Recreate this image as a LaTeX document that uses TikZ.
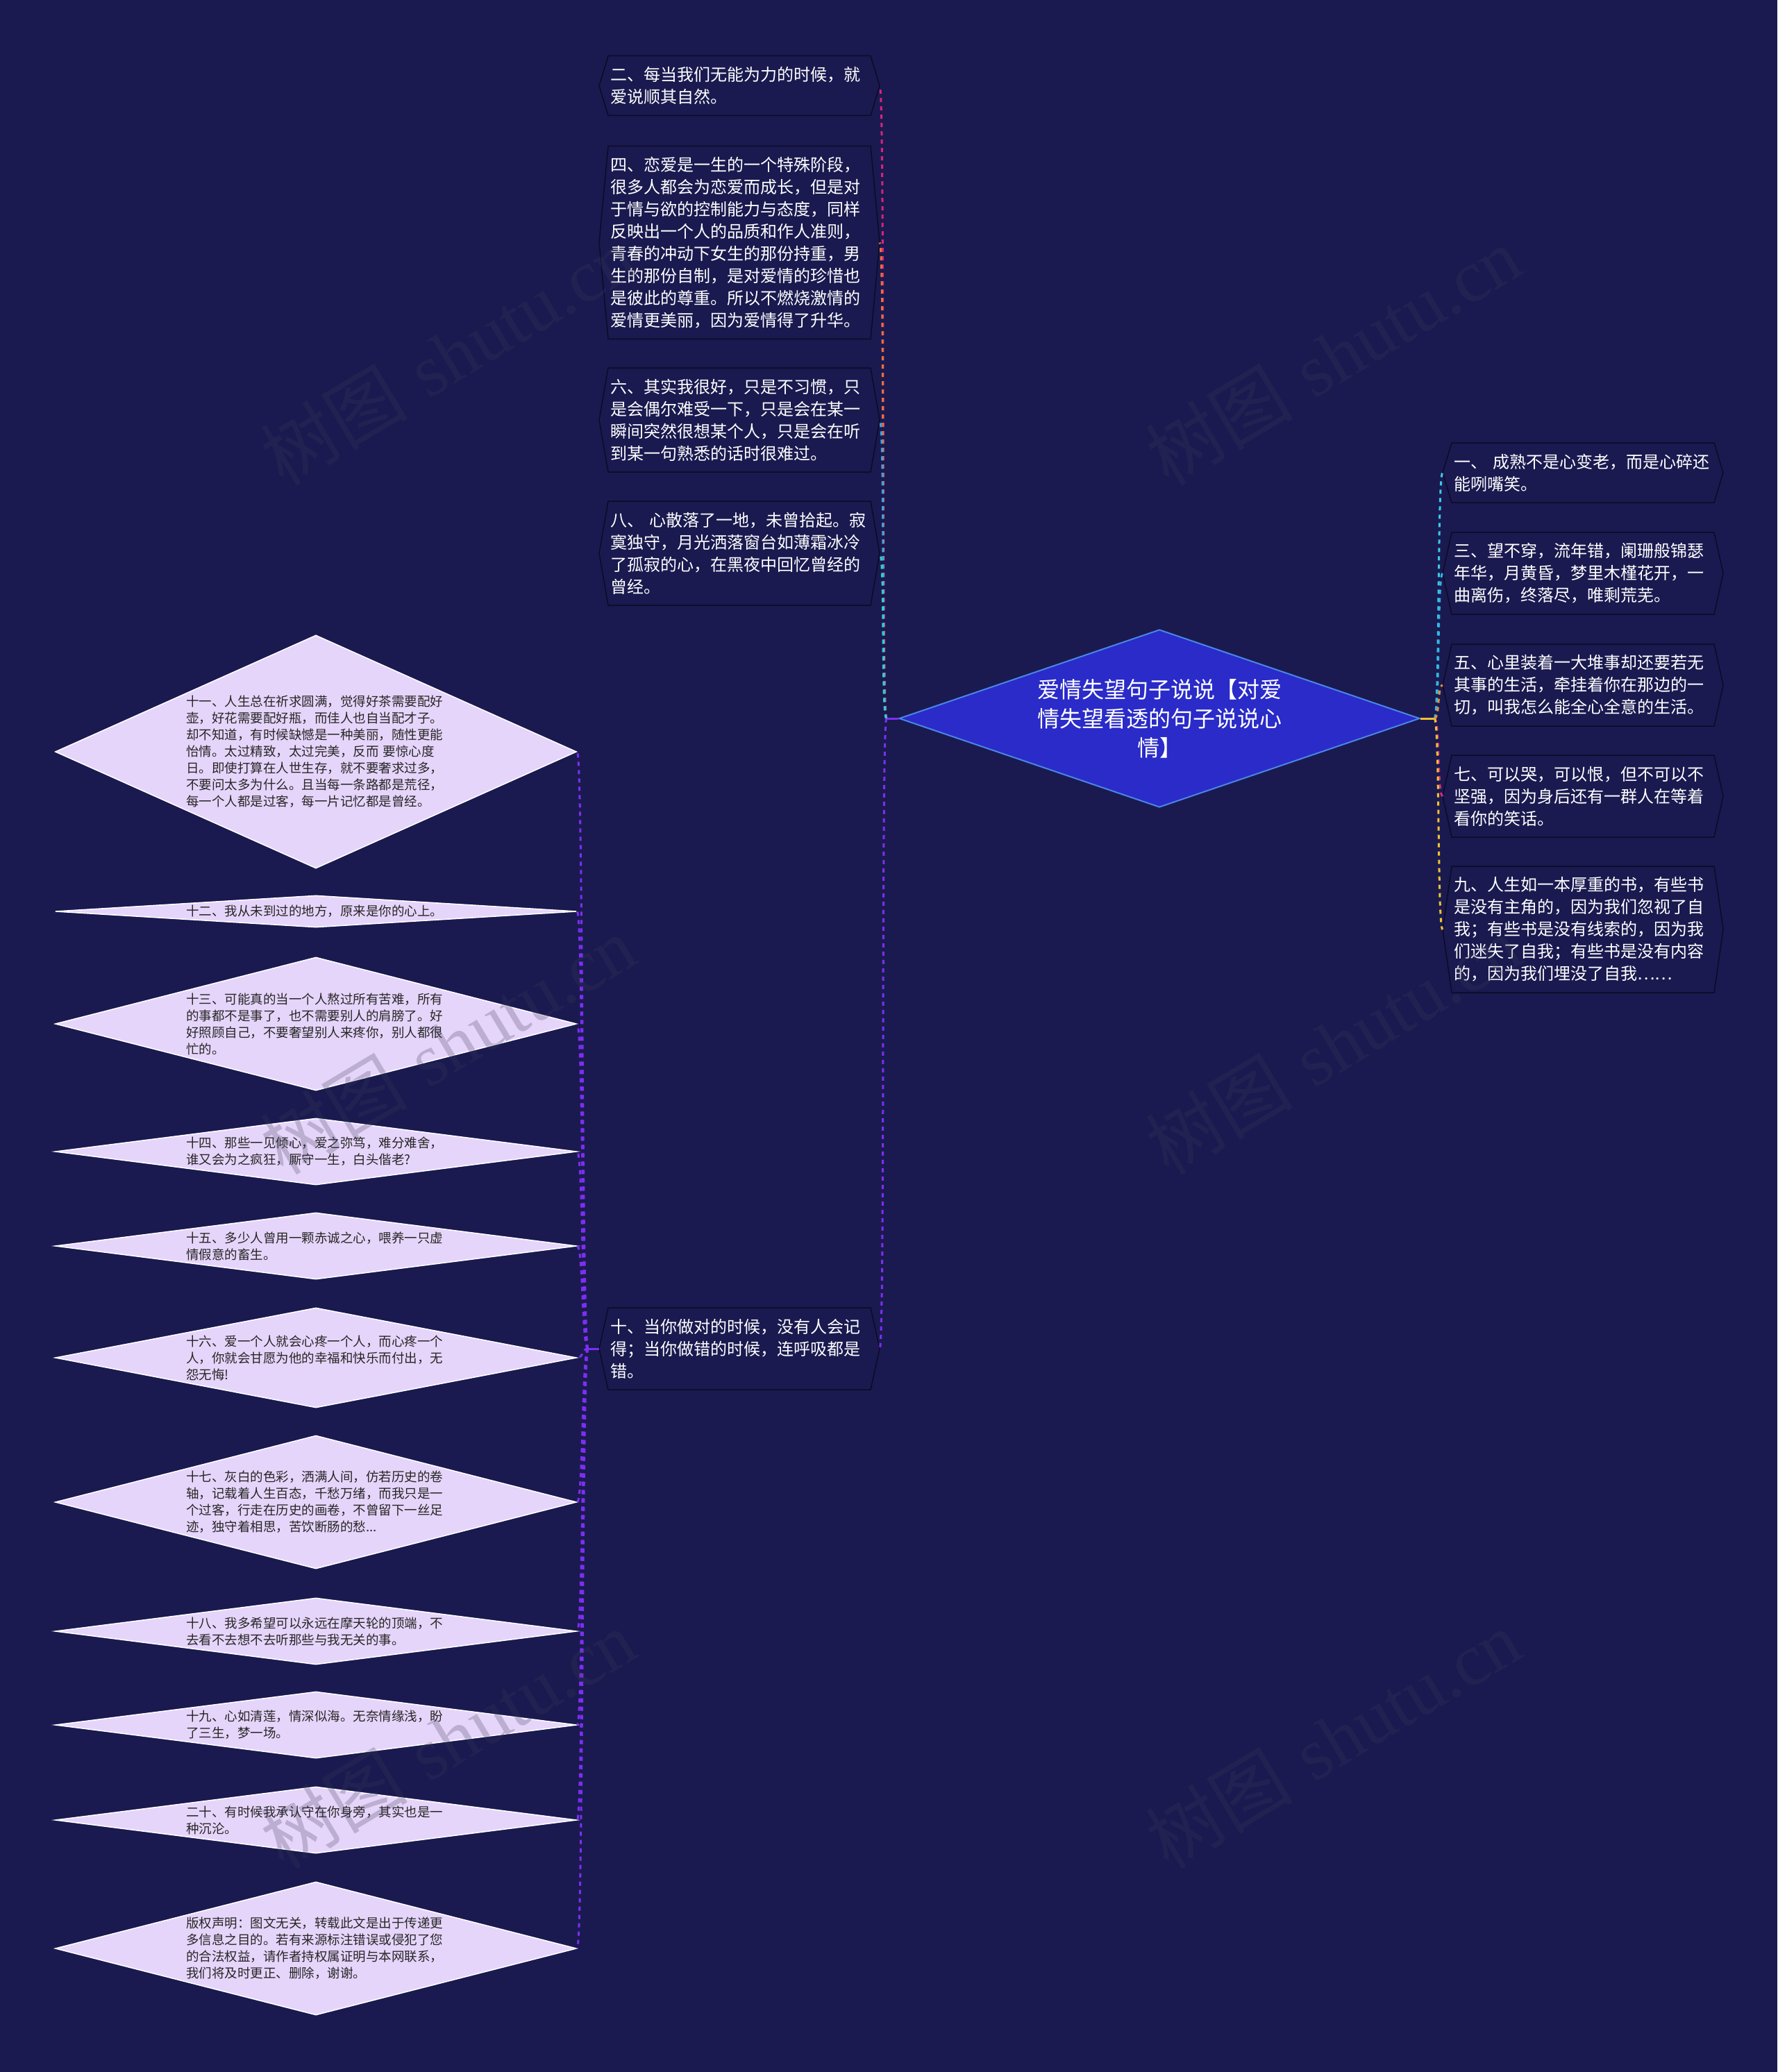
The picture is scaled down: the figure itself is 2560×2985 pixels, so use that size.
\documentclass[tikz,border=0pt]{standalone}
\usepackage{fontspec}
\newfontfamily\cjk{Noto Sans CJK SC}
\newfontfamily\wmserif{Liberation Serif}
\usetikzlibrary{shapes.geometric}

\definecolor{bgnavy}{HTML}{1A1A50}
\definecolor{rootblue}{HTML}{2A2BC8}
\definecolor{rootedge}{HTML}{4A86E8}
\definecolor{leaffill}{HTML}{E6D5FA}
\definecolor{leaftext}{HTML}{262626}
\definecolor{boxline}{HTML}{0B0B26}
\definecolor{wmgray}{HTML}{3C3C5A}
\definecolor{lkmag}{HTML}{D6247E}
\definecolor{lkorg}{HTML}{E8703C}
\definecolor{lkblue}{HTML}{3AA2E6}
\definecolor{lkteal}{HTML}{34CCD0}
\definecolor{lkpurple}{HTML}{7D2EF2}
\definecolor{lkcyan}{HTML}{3EC8E8}
\definecolor{lkcyanb}{HTML}{30B4E4}
\definecolor{lkorange}{HTML}{E88A3A}
\definecolor{lkpink}{HTML}{D02A84}
\definecolor{lkyellow}{HTML}{F0C232}

\begin{document}
\begin{tikzpicture}[x=0.5pt,y=-0.5pt,line cap=butt,
  rootnode/.style={diamond,draw=rootedge,line width=1pt,fill=rootblue,text=white,text width=178pt,align=center,inner sep=0pt,minimum width=375pt,minimum height=128pt,shape aspect=3,font=\cjk\fontsize{16pt}{21pt}\selectfont},
  box/.style={rectangle,text=white,text width=186pt,align=left,inner xsep=1.5pt,inner ysep=2pt,outer xsep=6.5pt,outer ysep=0pt,font=\cjk\fontsize{12pt}{16pt}\selectfont},
  boxedge/.style={draw=boxline,line width=0.75pt,line join=miter},
  leaf/.style={diamond,draw=white,line width=0.75pt,fill=leaffill,text=leaftext,text width=187pt,align=left,inner sep=0pt,minimum width=375.5pt,font=\cjk\fontsize{9.25pt}{12pt}\selectfont},
  link/.style={line width=1.5pt,dash pattern=on 3pt off 3pt},
  stub/.style={line width=1.5pt},
  wmark/.style={text=wmgray,text opacity=0.25,rotate=31,font=\fontsize{53pt}{53pt}\selectfont}]
\useasboundingbox (0,0) rectangle (2560,2985);
\fill[bgnavy] (0,0) rectangle (2560,2985);

% centre
\node[rootnode] (root) at (1670,1035) {爱情失望句子说说【对爱\\情失望看透的句子说说心\\情】};

% left column
\node[box,minimum height=43pt] (b2) at (1065,123.5) {二、每当我们无能为力的时候，就\\爱说顺其自然。};
\node[box,minimum height=139pt] (b4) at (1065,349.5) {四、恋爱是一生的一个特殊阶段，\\很多人都会为恋爱而成长，但是对\\于情与欲的控制能力与态度，同样\\反映出一个人的品质和作人准则，\\青春的冲动下女生的那份持重，男\\生的那份自制，是对爱情的珍惜也\\是彼此的尊重。所以不燃烧激情的\\爱情更美丽，因为爱情得了升华。};
\node[box,minimum height=75pt] (b6) at (1065,605) {六、其实我很好，只是不习惯，只\\是会偶尔难受一下，只是会在某一\\瞬间突然很想某个人，只是会在听\\到某一句熟悉的话时很难过。};
\node[box,minimum height=75pt] (b8) at (1065,797) {八、~心散落了一地，未曾拾起。寂\\寞独守，月光洒落窗台如薄霜冰冷\\了孤寂的心，在黑夜中回忆曾经的\\曾经。};
\node[box,minimum height=59pt] (b10) at (1065,1943) {十、当你做对的时候，没有人会记\\得；当你做错的时候，连呼吸都是\\错。};

% right column
\node[box,minimum height=43pt] (b1) at (2280,681) {一、~成熟不是心变老，而是心碎还\\能咧嘴笑。};
\node[box,minimum height=59pt] (b3) at (2280,826) {三、望不穿，流年错，阑珊般锦瑟\\年华，月黄昏，梦里木槿花开，一\\曲离伤，终落尽，唯剩荒芜。};
\node[box,minimum height=59pt] (b5) at (2280,987) {五、心里装着一大堆事却还要若无\\其事的生活，牵挂着你在那边的一\\切，叫我怎么能全心全意的生活。};
\node[box,minimum height=59pt] (b7) at (2280,1147) {七、可以哭，可以恨，但不可以不\\坚强，因为身后还有一群人在等着\\看你的笑话。};
\node[box,minimum height=91pt] (b9) at (2280,1339) {九、人生如一本厚重的书，有些书\\是没有主角的，因为我们忽视了自\\我；有些书是没有线索的，因为我\\们迷失了自我；有些书是没有内容\\的，因为我们埋没了自我……};

\foreach \bx in {b1,b2,b3,b4,b5,b6,b7,b8,b9,b10}
  \draw[boxedge] ([xshift=6.5pt]\bx.north west) -- ([xshift=-6.5pt]\bx.north east) -- (\bx.east) -- ([xshift=-6.5pt]\bx.south east) -- ([xshift=6.5pt]\bx.south west) -- (\bx.west) -- cycle;

% far left diamonds
\node[leaf,minimum height=168pt,shape aspect=2.23] (d11) at (455,1083) {十一、人生总在祈求圆满，觉得好茶需要配好\\壶，好花需要配好瓶，而佳人也自当配才子。\\却不知道，有时候缺憾是一种美丽，随性更能\\怡情。太过精致，太过完美，反而~要惊心度\\日。即使打算在人世生存，就不要奢求过多，\\不要问太多为什么。且当每一条路都是荒径，\\每一个人都是过客，每一片记忆都是曾经。};
\node[leaf,minimum height=23pt,shape aspect=15.6] (d12) at (455,1313) {十二、我从未到过的地方，原来是你的心上。};
\node[leaf,minimum height=96pt,shape aspect=3.9] (d13) at (455,1475) {十三、可能真的当一个人熬过所有苦难，所有\\的事都不是事了，也不需要别人的肩膀了。好\\好照顾自己，不要奢望别人来疼你，别人都很\\忙的。};
\node[leaf,minimum height=48pt,shape aspect=7.8] (d14) at (455,1659) {十四、那些一见倾心，爱之弥笃，难分难舍，\\谁又会为之疯狂，厮守一生，白头偕老?};
\node[leaf,minimum height=48pt,shape aspect=7.8] (d15) at (455,1795) {十五、多少人曾用一颗赤诚之心，喂养一只虚\\情假意的畜生。};
\node[leaf,minimum height=72pt,shape aspect=5.2] (d16) at (455,1956) {十六、爱一个人就会心疼一个人，而心疼一个\\人，你就会甘愿为他的幸福和快乐而付出，无\\怨无悔!};
\node[leaf,minimum height=96pt,shape aspect=3.9] (d17) at (455,2164) {十七、灰白的色彩，洒满人间，仿若历史的卷\\轴，记载着人生百态，千愁万绪，而我只是一\\个过客，行走在历史的画卷，不曾留下一丝足\\迹，独守着相思，苦饮断肠的愁...};
\node[leaf,minimum height=48pt,shape aspect=7.8] (d18) at (455,2350) {十八、我多希望可以永远在摩天轮的顶端，不\\去看不去想不去听那些与我无关的事。};
\node[leaf,minimum height=48pt,shape aspect=7.8] (d19) at (455,2485) {十九、心如清莲，情深似海。无奈情缘浅，盼\\了三生，梦一场。};
\node[leaf,minimum height=48pt,shape aspect=7.8] (d20) at (455,2622) {二十、有时候我承认守在你身旁，其实也是一\\种沉沦。};
\node[leaf,minimum height=96pt,shape aspect=3.9] (dcp) at (455,2807) {版权声明：图文无关，转载此文是出于传递更\\多信息之目的。若有来源标注错误或侵犯了您\\的合法权益，请作者持权属证明与本网联系，\\我们将及时更正、删除，谢谢。};

% connectors
\draw[stub,lkpurple] (root.west) -- ++(-17,0) coordinate (lhub);
\draw[link,lkmag] (lhub) .. controls +(-8,0) and +(8,0) .. (b2.east);
\draw[link,lkorg] (lhub) .. controls +(-8,0) and +(8,0) .. (b4.east);
\draw[link,lkblue] (lhub) .. controls +(-8,0) and +(8,0) .. (b6.east);
\draw[link,lkteal] (lhub) .. controls +(-8,0) and +(8,0) .. (b8.east);
\draw[link,lkpurple] (lhub) .. controls +(-8,0) and +(8,0) .. (b10.east);

\draw[stub,lkyellow] (root.east) -- ++(20,0) coordinate (rhub);
\draw[link,lkcyan] (rhub) .. controls +(8,0) and +(-8,0) .. (b1.west);
\draw[link,lkcyanb] (rhub) .. controls +(8,0) and +(-8,0) .. (b3.west);
\draw[link,lkorange] (rhub) .. controls +(8,0) and +(-8,0) .. (b5.west);
\draw[link,lkpink] (rhub) .. controls +(8,0) and +(-8,0) .. (b7.west);
\draw[link,lkyellow] (rhub) .. controls +(8,0) and +(-8,0) .. (b9.west);

\draw[stub,lkpurple] (b10.west) -- ++(-16,0) coordinate (dhub);
\foreach \dd in {d11,d12,d13,d14,d15,d16,d17,d18,d19,d20,dcp}
  \draw[link,lkpurple] (dhub) .. controls +(-9,0) and +(9,0) .. (\dd.east);

% watermark
\foreach \i/\x/\y in {1/645/512,2/1920/512,3/645/1505,4/1920/1505,5/645/2505,6/1920/2505}
  \node[wmark] (wm\i) at (\x,\y) {{\cjk 树图} {\wmserif shutu.cn}};
\end{tikzpicture}
\end{document}
